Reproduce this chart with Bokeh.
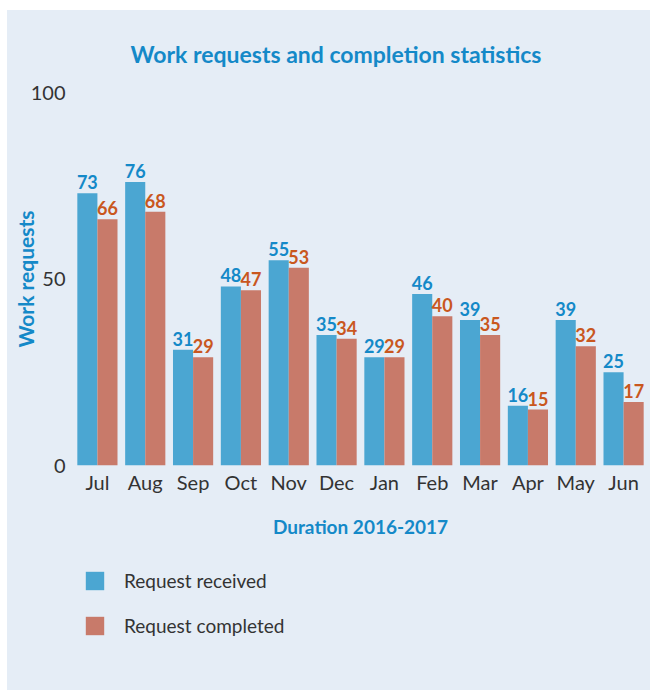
from bokeh.plotting import figure
from bokeh.layouts import column
from bokeh.models import ColumnDataSource, FactorRange, Range1d, Legend, LegendItem
from bokeh.transform import dodge
from bokeh.core.properties import value
from bokeh.embed import file_html
from bokeh.resources import INLINE

months = ["Jul", "Aug", "Sep", "Oct", "Nov", "Dec", "Jan", "Feb", "Mar", "Apr", "May", "Jun"]
received = [73, 76, 31, 48, 55, 35, 29, 46, 39, 16, 39, 25]
completed = [66, 68, 29, 47, 53, 34, 29, 40, 35, 15, 32, 17]
y_ticks = [0, 50, 100]
series_names = ["Request received", "Request completed"]

BG = "#e5edf6"
BLUE = "#4ba6d2"
RED = "#c87a6a"
BLUE_TXT = "#1489c8"
RED_TXT = "#c9571e"
DARK = "#333333"
FONT = "Lato"

src = ColumnDataSource(dict(
    month=months, received=received, completed=completed,
    rtxt=[str(v) for v in received], ctxt=[str(v) for v in completed],
))

p = figure(
    width=643, height=545, x_range=FactorRange(*months), y_range=Range1d(0, 100),
    output_backend="svg", toolbar_location=None,
    min_border_left=66, min_border_right=3, min_border_top=82, min_border_bottom=90,
    title="Work requests and completion statistics",
)
p.background_fill_color = BG
p.border_fill_color = BG
p.outline_line_color = None
p.grid.grid_line_color = None
p.x_range.range_padding = 0

p.title.align = "left"
p.title.offset = 57
p.title.standoff = 50
p.title.text_font = FONT
p.title.text_font_style = "bold"
p.title.text_font_size = "23px"
p.title.text_color = BLUE_TXT

p.vbar(x=dodge("month", -0.21, range=p.x_range), top="received", width=0.42,
       source=src, fill_color=BLUE, line_color=None)
p.vbar(x=dodge("month", 0.21, range=p.x_range), top="completed", width=0.42,
       source=src, fill_color=RED, line_color=None)

p.text(x=dodge("month", -0.21, range=p.x_range), y="received", text="rtxt", source=src,
       text_align="center", text_baseline="bottom", y_offset=-4,
       text_font=value(FONT), text_font_style="bold", text_font_size="18px", text_color=BLUE_TXT)
p.text(x=dodge("month", 0.21, range=p.x_range), y="completed", text="ctxt", source=src,
       text_align="center", text_baseline="bottom", y_offset=-4,
       text_font=value(FONT), text_font_style="bold", text_font_size="18px", text_color=RED_TXT)

for ax in (p.xaxis[0], p.yaxis[0]):
    ax.axis_line_color = None
    ax.major_tick_line_color = None
    ax.minor_tick_line_color = None
    ax.major_label_text_font = FONT
    ax.major_label_text_font_size = "20px"
    ax.major_label_text_color = DARK
    ax.axis_label_text_font = FONT
    ax.axis_label_text_font_style = "bold"
    ax.axis_label_text_color = BLUE_TXT

p.yaxis.ticker = y_ticks
p.yaxis.major_label_standoff = 2
p.yaxis.axis_label = "Work requests"
p.yaxis.axis_label_text_font_size = "21px"
p.yaxis.axis_label_standoff = -10

p.xaxis.major_label_standoff = -2
p.xaxis.axis_label = "Duration 2016-2017"
p.xaxis.axis_label_text_font_size = "19px"
p.xaxis.axis_label_standoff = 18

# legend panel below the chart (legend-only renderers, hidden in the frame)
lf = figure(width=643, height=135, output_backend="svg", toolbar_location=None,
            x_axis_type=None, y_axis_type=None, x_range=FactorRange(*months),
            y_range=Range1d(0, 100), min_border=0)
lf.background_fill_alpha = 0
lf.border_fill_alpha = 0
lf.outline_line_color = None
lf.grid.grid_line_color = None
lr1 = lf.vbar(x="month", top="received", width=0.42, source=src, fill_color=BLUE,
              line_color=None, visible=False)
lr2 = lf.vbar(x="month", top="completed", width=0.42, source=src, fill_color=RED,
              line_color=None, visible=False)

legend = Legend(items=[LegendItem(label=series_names[0], renderers=[lr1]),
                       LegendItem(label=series_names[1], renderers=[lr2])],
                location=(10, 53), orientation="vertical",
                glyph_width=23, glyph_height=23, label_height=23, label_standoff=18,
                spacing=22, padding=0, margin=0, inactive_fill_alpha=0,
                background_fill_alpha=0, border_line_color=None,
                label_text_font=FONT, label_text_font_size="19px", label_text_color=DARK)
lf.add_layout(legend)

layout = column(p, lf, spacing=0)
layout.margin = (10, 0, 0, 7)
layout.styles = {"background-color": BG}

open("out.html", "w").write(file_html(layout, INLINE))
